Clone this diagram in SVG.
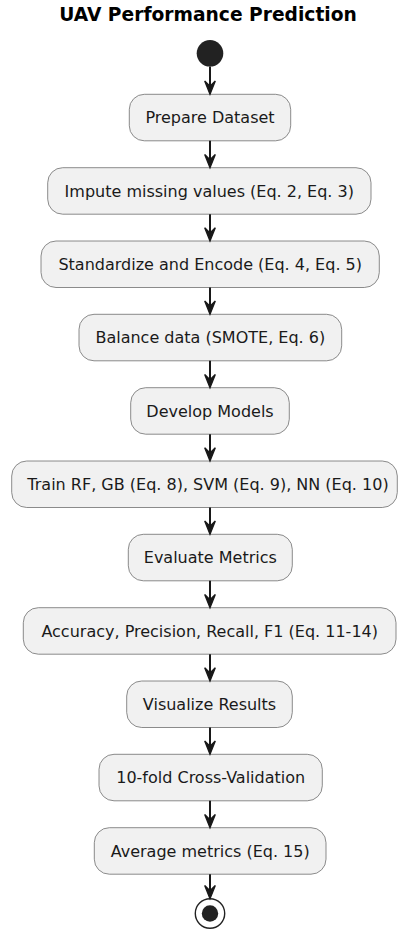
<svg xmlns="http://www.w3.org/2000/svg" width="399" height="930" viewBox="0 0 399 930">
<defs>
<style>
.title{font-family:"DejaVu Sans",sans-serif;font-weight:bold;font-size:18.67px;fill:#000;}
.box rect{fill:#F1F1F1;stroke:#6E6E6E;stroke-width:0.8;}
.box text{font-family:"DejaVu Sans",sans-serif;font-size:16px;fill:#1a1a1a;text-anchor:middle;}
.conn line{stroke:#181818;stroke-width:2;}
.conn polygon{fill:#181818;stroke:#181818;stroke-width:1.33;}
</style>
</defs>
<rect width="399" height="930" fill="#FFFFFF"/>
<text class="title" x="208" y="20.5" text-anchor="middle">UAV Performance Prediction</text>
<g id="start"><circle cx="210" cy="53.3" r="13.3" fill="#222222"/></g>
<g id="n1" class="box"><rect x="129.3" y="94.3" width="161.4" height="46.5" rx="15"/><text x="210" y="123.3">Prepare Dataset</text></g>
<g id="n2" class="box"><rect x="47.7" y="167.7" width="323.3" height="46.5" rx="15"/><text x="209.3" y="196.7">Impute missing values (Eq. 2, Eq. 3)</text></g>
<g id="n3" class="box"><rect x="41" y="241" width="338.3" height="46.5" rx="15"/><text x="210.2" y="270">Standardize and Encode (Eq. 4, Eq. 5)</text></g>
<g id="n4" class="box"><rect x="79" y="314.3" width="262.7" height="46.5" rx="15"/><text x="210.3" y="343.3">Balance data (SMOTE, Eq. 6)</text></g>
<g id="n5" class="box"><rect x="130.7" y="387.7" width="158.6" height="46.5" rx="15"/><text x="210" y="416.7">Develop Models</text></g>
<g id="n6" class="box"><rect x="11.7" y="461" width="385.6" height="46.5" rx="15"/><text x="208" y="490">Train RF, GB (Eq. 8), SVM (Eq. 9), NN (Eq. 10)</text></g>
<g id="n7" class="box"><rect x="128.3" y="534.3" width="164" height="46.5" rx="15"/><text x="210.3" y="563.3">Evaluate Metrics</text></g>
<g id="n8" class="box"><rect x="23.3" y="607.7" width="372.7" height="46.5" rx="15"/><text x="209.7" y="636.7">Accuracy, Precision, Recall, F1 (Eq. 11-14)</text></g>
<g id="n9" class="box"><rect x="126.7" y="681" width="165.6" height="46.5" rx="15"/><text x="209.5" y="710">Visualize Results</text></g>
<g id="n10" class="box"><rect x="99" y="754.3" width="223.3" height="46.5" rx="15"/><text x="210.7" y="783.3">10-fold Cross-Validation</text></g>
<g id="n11" class="box"><rect x="94.3" y="827.7" width="231.7" height="46.5" rx="15"/><text x="210.2" y="856.7">Average metrics (Eq. 15)</text></g>
<g id="end"><circle cx="210" cy="913.5" r="14.7" fill="none" stroke="#222222" stroke-width="1.4"/><circle cx="210" cy="913.5" r="8.2" fill="#222222"/></g>
<g id="connectors" class="conn">
<line x1="210" y1="66.6" x2="210" y2="90"/><polygon points="204.7,81 210,94.3 215.3,81 210,86.3"/>
<line x1="210" y1="140.8" x2="210" y2="163"/><polygon points="204.7,154.4 210,167.7 215.3,154.4 210,159.7"/>
<line x1="210" y1="214.2" x2="210" y2="237"/><polygon points="204.7,227.7 210,241 215.3,227.7 210,233"/>
<line x1="210" y1="287.5" x2="210" y2="310"/><polygon points="204.7,301 210,314.3 215.3,301 210,306.3"/>
<line x1="210" y1="360.8" x2="210" y2="383"/><polygon points="204.7,374.4 210,387.7 215.3,374.4 210,379.7"/>
<line x1="210" y1="434.2" x2="210" y2="457"/><polygon points="204.7,447.7 210,461 215.3,447.7 210,453"/>
<line x1="210" y1="507.5" x2="210" y2="530"/><polygon points="204.7,521 210,534.3 215.3,521 210,526.3"/>
<line x1="210" y1="580.8" x2="210" y2="603"/><polygon points="204.7,594.4 210,607.7 215.3,594.4 210,599.7"/>
<line x1="210" y1="654.2" x2="210" y2="677"/><polygon points="204.7,667.7 210,681 215.3,667.7 210,673"/>
<line x1="210" y1="727.5" x2="210" y2="750"/><polygon points="204.7,741 210,754.3 215.3,741 210,746.3"/>
<line x1="210" y1="800.8" x2="210" y2="823"/><polygon points="204.7,814.4 210,827.7 215.3,814.4 210,819.7"/>
<line x1="210" y1="874.2" x2="210" y2="895"/><polygon points="204.7,885.5 210,898.8 215.3,885.5 210,890.8"/>
</g>
</svg>
